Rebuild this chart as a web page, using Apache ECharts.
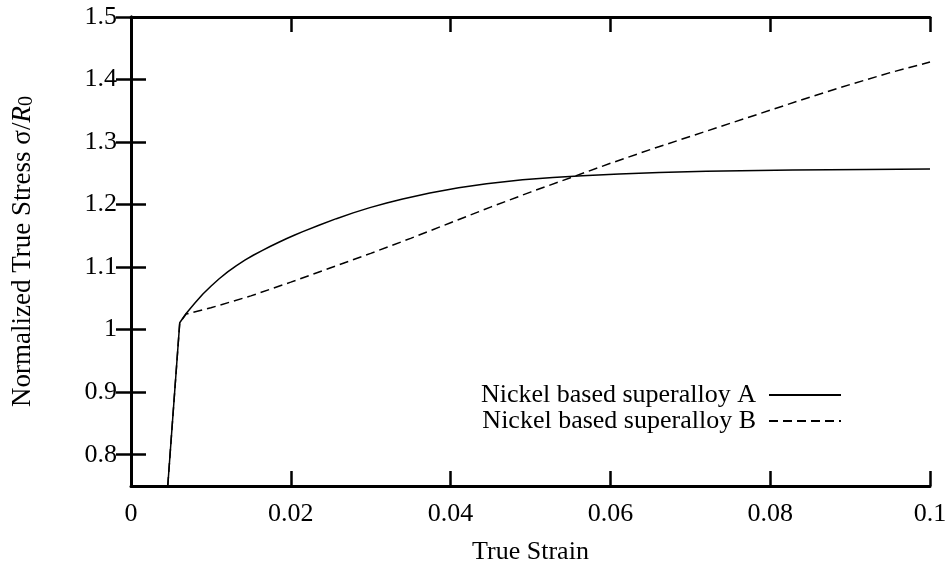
<!DOCTYPE html>
<html>
<head>
<meta charset="utf-8">
<script src="https://cdn.jsdelivr.net/npm/echarts@6/dist/echarts.min.js"></script>
<style>
html,body{margin:0;padding:0;background:#fff;}
#chart{width:951px;height:565px;}
</style>
</head>
<body>
<div id="chart"></div>
<script>
// Data
const seriesNames = ['Nickel based superalloy A', 'Nickel based superalloy B'];
const strainA = [0.0046, 0.0061, 0.0069, 0.0080, 0.0090, 0.0100, 0.0110, 0.0121, 0.0132, 0.0143, 0.0153, 0.0164, 0.0174, 0.0185, 0.0195, 0.0205, 0.0215, 0.0236, 0.0257, 0.0278, 0.0299, 0.0320, 0.0340, 0.0374, 0.0410, 0.0445, 0.0490, 0.0528, 0.0565, 0.0611, 0.0661, 0.0720, 0.0828, 0.0920, 0.1000];
const stressA = [0.750, 1.011, 1.026, 1.0425, 1.057, 1.0695, 1.081, 1.0925, 1.1025, 1.1115, 1.119, 1.1265, 1.133, 1.1398, 1.1458, 1.1514, 1.1567, 1.1674, 1.1775, 1.1868, 1.1952, 1.2027, 1.2091, 1.2185, 1.2268, 1.2333, 1.2396, 1.2435, 1.2463, 1.2490, 1.2512, 1.2532, 1.2552, 1.2563, 1.2570];
const strainB = [0.0046, 0.0061, 0.0069, 0.010, 0.015, 0.020, 0.025, 0.030, 0.035, 0.040, 0.045, 0.050, 0.055, 0.060, 0.065, 0.070, 0.075, 0.080, 0.085, 0.090, 0.095, 0.100];
const stressB = [0.750, 1.011, 1.025, 1.035, 1.054, 1.076, 1.099, 1.122, 1.146, 1.171, 1.196, 1.220, 1.243, 1.266, 1.288, 1.309, 1.330, 1.351, 1.372, 1.392, 1.411, 1.428];
const xTicks = [0, 0.02, 0.04, 0.06, 0.08, 0.1];
const xTickLabels = ['0', '0.02', '0.04', '0.06', '0.08', '0.1'];
const yTicks = [0.8, 0.9, 1.0, 1.1, 1.2, 1.3, 1.4, 1.5];
const yTickLabels = ['0.8', '0.9', '1', '1.1', '1.2', '1.3', '1.4', '1.5'];

const FONT = 'Liberation Serif';
const FS = 26;
const pairs = (xs, ys) => xs.map((x, i) => [x, ys[i]]);

const axisLine = {show: true, lineStyle: {color: '#000', width: 3}};
const tickStyle = {color: '#000', width: 2.5};

const chart = echarts.init(document.getElementById('chart'), null, {renderer: 'canvas'});
chart.setOption({
  backgroundColor: '#fff',
  animation: false,
  grid: {left: 131, right: 21, top: 17, bottom: 79, containLabel: false, outerBoundsMode: 'none'},
  legend: {
    data: seriesNames,
    orient: 'vertical',
    align: 'right',
    right: 109,
    top: 382,
    padding: 0,
    itemWidth: 72,
    itemHeight: 14,
    itemGap: 0,
    itemStyle: {color: 'rgba(0,0,0,0)', borderColor: 'rgba(0,0,0,0)', borderWidth: 0},
    textStyle: {fontFamily: FONT, fontSize: FS, color: '#000', padding: [0, 8, 0, 0]}
  },
  xAxis: [{
    type: 'value', min: 0, max: 0.1, position: 'bottom',
    axisLine: axisLine,
    axisTick: {show: true, inside: true, length: 15, lineStyle: tickStyle, customValues: xTicks},
    axisLabel: {show: true, fontFamily: FONT, fontSize: FS, color: '#000', margin: 15,
      customValues: xTicks, formatter: v => xTickLabels[xTicks.findIndex(t => Math.abs(t - v) < 1e-9)] ?? ''},
    splitLine: {show: false},
    name: 'True Strain', nameLocation: 'middle', nameGap: 53,
    nameTextStyle: {fontFamily: FONT, fontSize: FS, color: '#000'}
  }, {
    type: 'value', min: 0, max: 0.1, position: 'top',
    axisLine: axisLine,
    axisTick: {show: true, inside: true, length: 15, lineStyle: tickStyle, customValues: xTicks},
    axisLabel: {show: false},
    splitLine: {show: false}
  }],
  yAxis: [{
    type: 'value', min: 0.75, max: 1.5, position: 'left',
    axisLine: axisLine,
    axisTick: {show: true, inside: true, length: 15, lineStyle: tickStyle, customValues: yTicks},
    axisLabel: {show: true, fontFamily: FONT, fontSize: FS, color: '#000', margin: 14,
      customValues: yTicks, formatter: v => yTickLabels[yTicks.findIndex(t => Math.abs(t - v) < 1e-9)] ?? ''},
    splitLine: {show: false},
    name: '{a|Normalized True Stress σ/}{i|R}{s|0}',
    nameLocation: 'middle', nameGap: 94, nameRotate: 90,
    nameTextStyle: {
      fontFamily: FONT, fontSize: 27, color: '#000',
      rich: {
        a: {fontFamily: FONT, fontSize: 27, color: '#000'},
        i: {fontFamily: FONT, fontSize: 27, color: '#000', fontStyle: 'italic'},
        s: {fontFamily: FONT, fontSize: 20, color: '#000', verticalAlign: 'bottom', padding: [8, 0, 0, 0]}
      }
    }
  }, {
    type: 'value', min: 0.75, max: 1.5, position: 'right',
    axisLine: axisLine,
    axisTick: {show: true, inside: true, length: 15, lineStyle: tickStyle, customValues: yTicks},
    axisLabel: {show: false},
    splitLine: {show: false}
  }],
  series: [{
    name: seriesNames[0], type: 'line', xAxisIndex: 0, yAxisIndex: 0,
    data: pairs(strainA, stressA), showSymbol: false, symbol: 'none',
    lineStyle: {color: '#000', width: 1.5, type: 'solid'},
    itemStyle: {color: '#000'}, clip: true
  }, {
    name: seriesNames[1], type: 'line', xAxisIndex: 0, yAxisIndex: 0,
    data: pairs(strainB, stressB), showSymbol: false, symbol: 'none',
    lineStyle: {color: '#000', width: 1.5, type: [9, 5]},
    itemStyle: {color: '#000'}, clip: true
  }]
});
</script>
</body>
</html>
